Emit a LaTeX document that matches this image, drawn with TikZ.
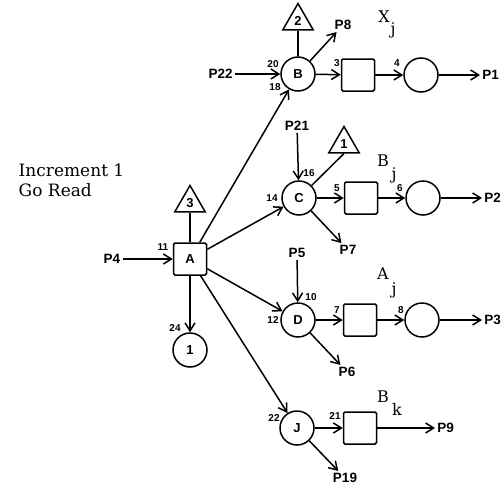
\documentclass[tikz,border=0pt]{standalone}
\usepackage{fontspec}
\setsansfont{Liberation Sans}
\newfontfamily\serf{DejaVu Serif}
\usetikzlibrary{arrows.meta,shapes.geometric}
\begin{document}
\begin{tikzpicture}[x=1pt,y=-1pt,line width=1.5pt,
  arr/.style={-{Straight Barb[length=8pt,width=10pt,line width=1.5pt]}},
  place/.style={circle,draw,minimum size=34pt,inner sep=0pt,font=\sffamily\bfseries\fontsize{13}{13}\selectfont},
  box/.style={rectangle,draw,minimum width=33pt,minimum height=32pt,rounded corners=1.5pt,inner sep=0pt,font=\sffamily\bfseries\fontsize{13}{13}\selectfont},
  tri/.style={regular polygon,regular polygon sides=3,draw,minimum size=35pt,inner sep=0pt,font=\sffamily\bfseries\fontsize{13}{13}\selectfont},
  lbl/.style={font=\sffamily\bfseries\fontsize{13.5}{13.5}\selectfont,inner sep=1.5pt},
  num/.style={font=\sffamily\bfseries\fontsize{10}{10}\selectfont,inner sep=0pt},
  var/.style={font=\serf\fontsize{16}{16}\selectfont,inner sep=0pt}]
\path[use as bounding box] (0,0) rectangle (501,485);

% title
\node[font=\serf\fontsize{17}{20}\selectfont,align=left,anchor=west,inner sep=0pt] (title) at (18,180) {Increment 1\\Go Read};

% A
\node[box] (A) at (190,259) {A};
\node[tri] (t3) at (190,203) {3};
\node[lbl] (p4) at (112,259) {P4};
\node[num] (n11) at (163,247) {11};
\draw (t3.side 2) -- (A);
\draw[arr] (p4) -- (A);
\node[place] (I) at (190,350) {1};
\node[num] (n24) at (175,328) {24};
\draw[arr] (A) -- (I);

% B row
\node[place] (B) at (298,74) {B};
\node[tri] (t2) at (298,21) {2};
\node[box] (s1) at (358,75) {};
\node[place] (c1) at (421,75) {};
\node[lbl,anchor=west] (p1) at (480,75) {P1};
\node[lbl,anchor=east] (p22) at (235,74) {P22};
\node[lbl] (p8) at (343,25) {P8};
\node[num] (n20) at (273,64) {20};
\node[num] (n18) at (275,87) {18};
\node[num] (n3) at (337,63) {3};
\node[num] (n4) at (397,63) {4};
\node[var] (xX) at (384,17) {X};
\node[var] (xj) at (393,30) {j};
\draw (t2.side 2) -- (B);
\draw[arr] (p22) -- (B);
\draw[arr] (B) -- (p8);
\draw[arr] (B) -- (s1);
\draw[arr] (s1) -- (c1);
\draw[arr] (c1) -- (p1);

% C row
\node[place] (C) at (299,198) {C};
\node[tri] (t1) at (344,144) {1};
\node[box] (s2) at (361,198) {};
\node[place] (c2) at (423,198) {};
\node[lbl,anchor=west] (p2) at (482,198) {P2};
\node[lbl] (p21) at (297,126) {P21};
\node[lbl] (p7) at (348,250) {P7};
\node[num] (n16) at (309,173) {16};
\node[num] (n14) at (272,198) {14};
\node[num] (n5) at (337,188) {5};
\node[num] (n6) at (400,188) {6};
\node[var] (bB) at (383,161) {B};
\node[var] (bj) at (394,175) {j};
\draw (C) -- (t1.side 2);
\draw[arr] (p21) -- (C);
\draw[arr] (C) -- (p7);
\draw[arr] (C) -- (s2);
\draw[arr] (s2) -- (c2);
\draw[arr] (c2) -- (p2);

% D row
\node[place] (D) at (298,320) {D};
\node[box] (s3) at (360,320) {};
\node[place] (c3) at (422,320) {};
\node[lbl,anchor=west] (p3) at (482,320) {P3};
\node[lbl] (p5) at (297,253) {P5};
\node[lbl] (p6) at (347,372) {P6};
\node[num] (n10) at (311,297) {10};
\node[num] (n12) at (273,320) {12};
\node[num] (n7) at (337,310) {7};
\node[num] (n8) at (401,310) {8};
\node[var] (aA) at (383,274) {A};
\node[var] (aj) at (394,290) {j};
\draw[arr] (p5) -- (D);
\draw[arr] (D) -- (p6);
\draw[arr] (D) -- (s3);
\draw[arr] (s3) -- (c3);
\draw[arr] (c3) -- (p3);

% J row
\node[place] (J) at (297,428) {J};
\node[box] (s4) at (360,428) {};
\node[lbl,anchor=west] (p9) at (435,428) {P9};
\node[lbl] (p19) at (345,478) {P19};
\node[num] (n22) at (274,418) {22};
\node[num] (n21) at (335,416) {21};
\node[var] (kB) at (383,397) {B};
\node[var] (kk) at (397,409) {k};
\draw[arr] (J) -- (p19);
\draw[arr] (J) -- (s4);
\draw[arr] (s4) -- (p9);

% from A
\draw[arr] (A) -- (B);
\draw[arr] (A) -- (C);
\draw[arr] (A) -- (D);
\draw[arr] (A) -- (J);
\end{tikzpicture}
\end{document}
